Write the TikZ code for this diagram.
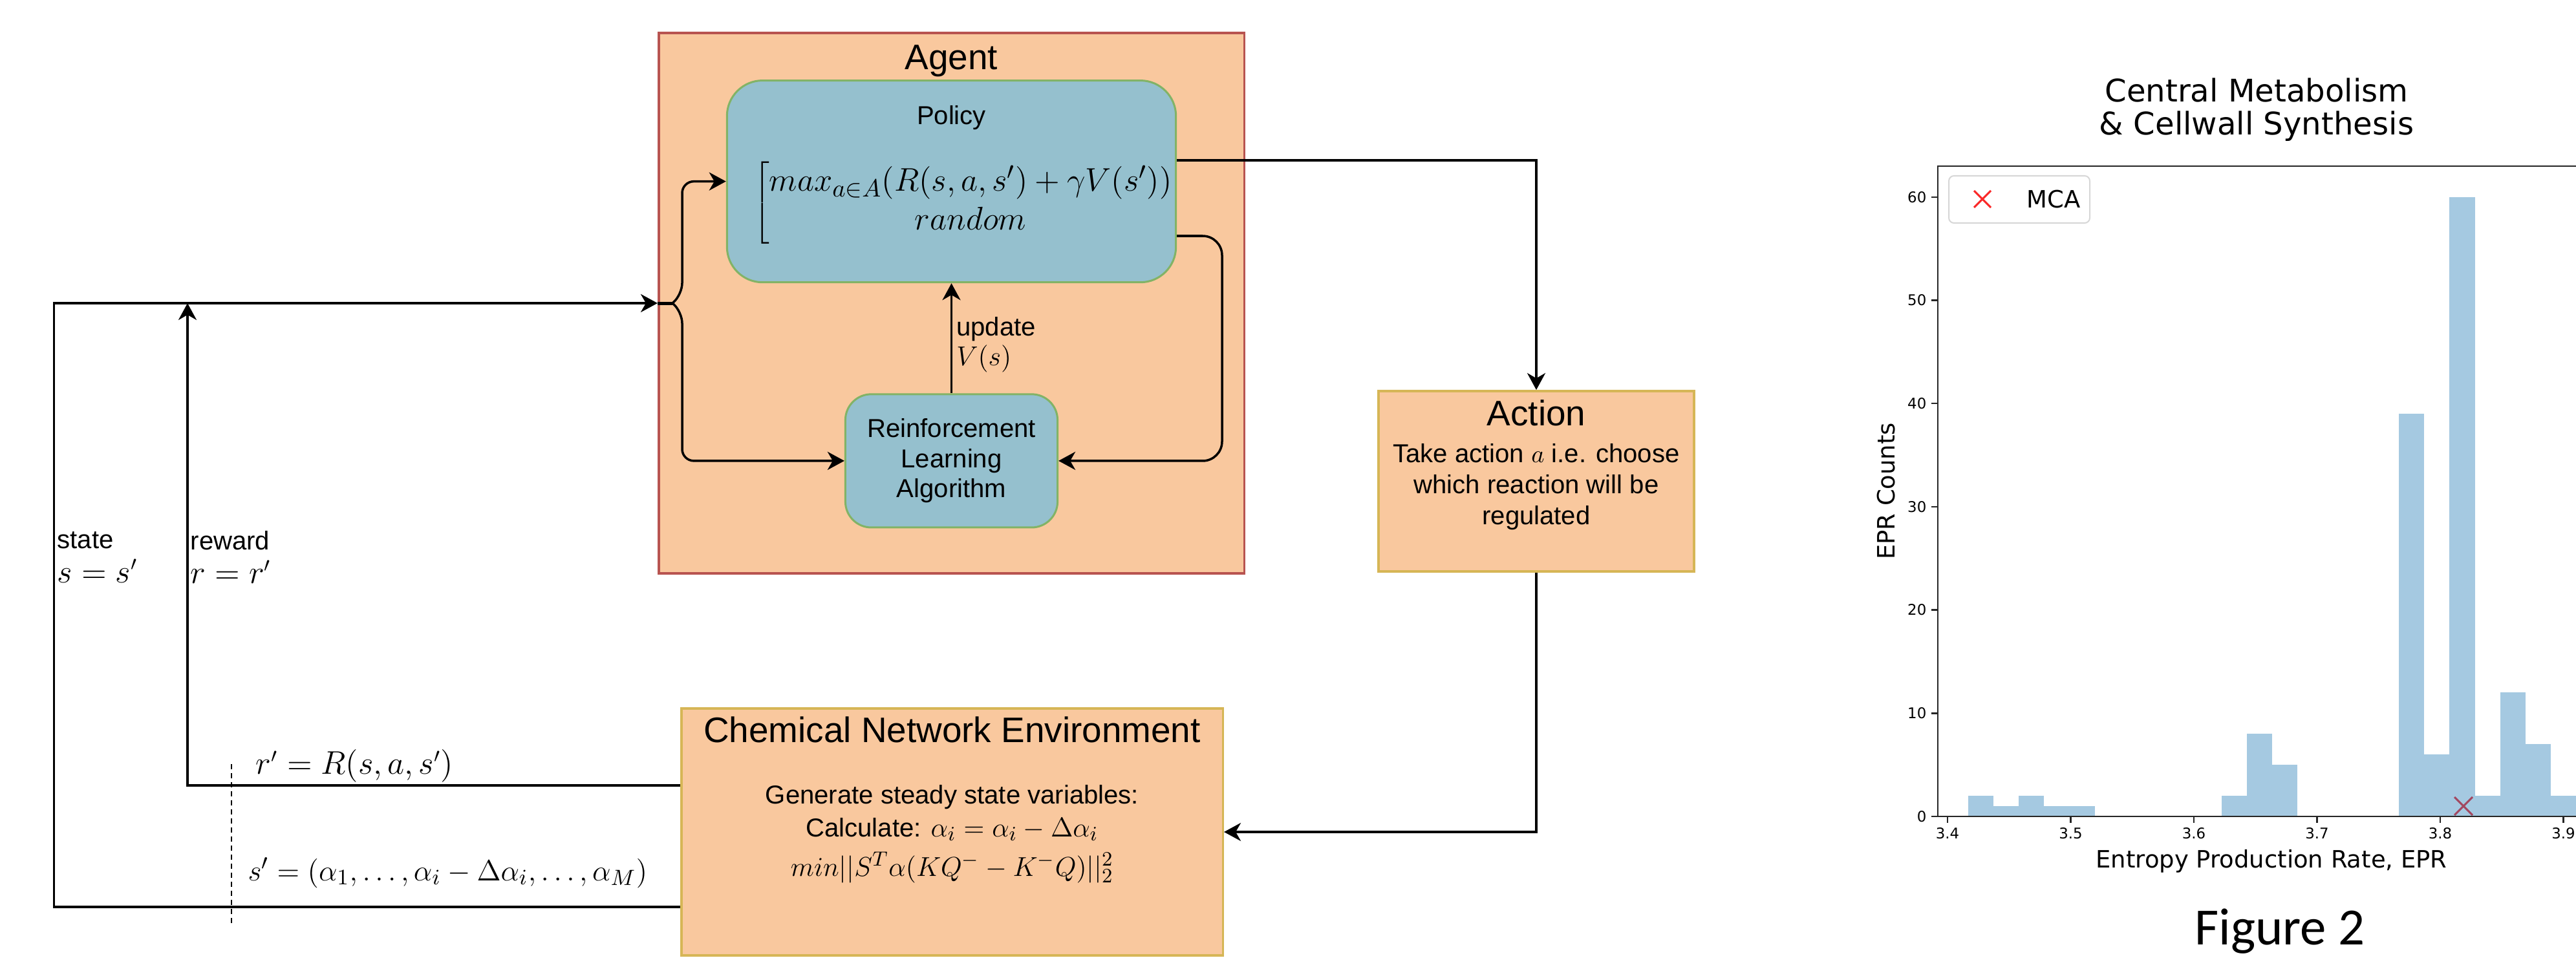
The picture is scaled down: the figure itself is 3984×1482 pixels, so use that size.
\documentclass[tikz,border=0pt]{standalone}
\usepackage{fontspec}
\usepackage{graphicx}
\setmainfont{Liberation Sans}
\newfontfamily\plotfont{DejaVu Sans}
\newfontfamily\figfont{Carlito}
\usetikzlibrary{shapes, arrows.meta, positioning}

\definecolor{peach}{RGB}{249,200,158}
\definecolor{agentred}{RGB}{184,84,80}
\definecolor{tealblue}{RGB}{149,192,206}
\definecolor{leafgreen}{RGB}{130,179,102}
\definecolor{goldline}{RGB}{214,182,86}
\definecolor{histblue}{RGB}{31,119,180}
\definecolor{mcared}{RGB}{250,40,40}
\definecolor{legendgray}{RGB}{215,215,215}

\newcommand{\bodysize}{\fontsize{11.4}{13.2}\selectfont}
\newcommand{\headsize}{\fontsize{15.6}{18}\selectfont}
\newcommand{\eqsize}{\fontsize{13}{15.5}\selectfont}
\newcommand{\envmathsize}{\fontsize{12.6}{15}\selectfont}
\newcommand{\sideeqsize}{\fontsize{13.5}{16}\selectfont}
\newcommand{\policyeqsize}{\fontsize{15.3}{18}\selectfont}

\tikzstyle{frame} =
        [
                rectangle,
                draw = agentred,
                fill = peach,
                line width = 0.035cm,
                inner sep = 0pt
        ]
\tikzstyle{block} =
        [
                rectangle,
                draw = leafgreen,
                fill = tealblue,
                rounded corners = 0.55cm,
                line width = 0.03cm,
                align = center,
                font = \bodysize,
                inner sep = 0pt
        ]
\tikzstyle{box} =
        [
                rectangle,
                draw = goldline,
                fill = peach,
                line width = 0.035cm,
                inner sep = 0pt
        ]
\tikzstyle{heading} =
        [
                font = \headsize,
                inner sep = 0pt
        ]
\tikzstyle{tag} =
        [
                font = \bodysize,
                align = left,
                inner sep = 0pt
        ]
\tikzstyle{line} =
        [
                draw,
                line width = 0.035cm,
                -{Stealth[length = 0.26cm, width = 0.28cm, inset = 0.08cm]}
        ]
\tikzstyle{wire} =
        [
                draw,
                line width = 0.035cm
        ]
\tikzstyle{axisline} =
        [
                draw,
                line width = 0.025cm,
                black!85
        ]
\tikzstyle{histbar} =
        [
                fill = histblue,
                fill opacity = 0.4
        ]
\tikzstyle{ticklabel} =
        [
                font = \plotfont\fontsize{6.5}{7.5}\selectfont,
                inner sep = 0pt
        ]
\tikzstyle{plotlabel} =
        [
                font = \plotfont\fontsize{10.5}{12.6}\selectfont,
                inner sep = 0pt
        ]

\begin{document}
\begin{tikzpicture}[x = 0.01cm, y = -0.01cm, node distance = 4.32cm, auto]
        \useasboundingbox (0,0) rectangle (3984,1482);
        \clip (0,0) rectangle (3984,1482);

        \node [frame, minimum width = 9.05cm, minimum height = 8.36cm] (agent) at (1471.5,469) {};
        \node [heading, below = 0.2cm of agent.north] (agentname) {Agent};
        \node [block, minimum width = 6.94cm, minimum height = 3.12cm, below = 0.74cm of agent.north] (policy) {};
        \node [tag, below = 0.4cm of policy.north] (policyname) {Policy};
        \node [font = \policyeqsize, inner sep = 0pt] (policyeq) at ([xshift = 0.2cm, yshift = -0.33cm]policy.center)
                {\renewcommand{\arraystretch}{0.95}$\left[\begin{array}{@{}c@{}} max_{a\in A}(R(s,a,s')+\gamma V(s'))\\ random\end{array}\right.$};
        \node [block, minimum width = 3.28cm, minimum height = 2.06cm, rounded corners = 0.4cm, below of = policy] (rl) {Reinforcement\\Learning\\Algorithm};

        \node [box, minimum width = 4.88cm, minimum height = 2.79cm] (action) at (2376,744.5) {};
        \node [heading, below = 0.15cm of action.north] (actionname) {Action};
        \node [tag, align = center, font = \fontsize{11.4}{13.6}\selectfont, below = 0.26cm of actionname] (actiontext)
                {Take action $a$ i.e. choose\\which reaction will be\\regulated};

        \node [box, minimum width = 8.37cm, minimum height = 3.82cm] (env) at (1472.5,1287) {};
        \node [heading, below = 0.14cm of env.north] (envname) {Chemical Network Environment};
        \node [tag, align = center, font = \fontsize{11.4}{14.5}\selectfont] (envtext) at ([yshift = -0.03cm]env.center)
                {Generate steady state variables:\\Calculate: {\envmathsize$\alpha_i=\alpha_i-\Delta\alpha_i$}\\[0.1cm]{\envmathsize$min||S^T\alpha(KQ^- -K^-Q)||_2^2$}};

        \node [tag, anchor = west, font = \fontsize{11.4}{15}\selectfont] (statelbl) at (88,862) {state\\{\sideeqsize$s=s'$}};
        \node [tag, anchor = west, font = \fontsize{11.4}{15}\selectfont] (rewardlbl) at (294,862) {reward\\{\sideeqsize$r=r'$}};
        \node [tag, anchor = west, font = \sideeqsize] (rewardeq) at (395,1185) {$r'=R(s,a,s')$};
        \node [tag, anchor = west, font = \envmathsize] (stateeq) at (383,1350) {\scalebox{1.075}{$s'=(\alpha_1,\ldots,\alpha_i-\Delta\alpha_i,\ldots,\alpha_M)$}};

        \coordinate (stateout) at (env.west |- 0,1403);
        \coordinate (stateleft) at (83.5,1403);
        \coordinate (rewardout) at (env.west |- 0,1215);
        \coordinate (rewardtop) at (290,469);
        \coordinate (bracetip) at (1040,469);
        \coordinate (policyout) at (policy.east |- 0,248);
        \coordinate (policyback) at (policy.east |- 0,365);
        \coordinate (loopcorner) at (1890,713);
        \coordinate (cuttop) at (358,1182);
        \coordinate (cutbottom) at (358,1430);

        \path [line] (stateout) -- (stateleft) |- (agent.west);
        \path [line] (rewardout) -| (rewardtop);
        \path [wire, line width = 0.05cm] (agent.west) -- (bracetip);
        \path [line, rounded corners = 0.18cm] (bracetip) -- ++(15,-13) |- (policy.west);
        \path [line, rounded corners = 0.18cm] (bracetip) -- ++(15,13) |- (rl.west);
        \path [line] (rl.north) -- node [tag, right, xshift = 0.06cm, yshift = -0.1cm] {update\\{\eqsize$V(s)$}} (policy.south);
        \path [line] (policyout) -| (action.north);
        \path [line, rounded corners = 0.3cm] (policyback) -| (loopcorner) -- (rl.east);
        \path [line] (action.south) |- (env.east);
        \draw [line width = 0.02cm, dash pattern = on 0.08cm off 0.06cm] (cuttop) -- (cutbottom);

        % histogram
        \draw [mcared, line width = 0.03cm] (3796,1233) -- (3824,1261) (3796,1261) -- (3824,1233);
        \foreach \k/\h in {0/2, 1/1, 2/2, 3/1, 4/1, 10/2, 11/8, 12/5, 17/39, 18/6, 19/60, 20/2, 21/12, 22/7, 23/2, 24/2}
                \fill [histbar] (3043.6+39.2*\k,1263) rectangle ++(39.2,-15.97*\h);
        \path [axisline] (4000,257) -- (2997,257) -- (2997,1263) -- (4000,1263);
        \foreach \lab [count = \v from 0] in {0,10,20,30,40,50,60}
        {
                \path [axisline] (2997,1263-159.7*\v) -- ++(-10,0);
                \node [ticklabel, anchor = east] (ytick\v) at (2980,1263-159.7*\v) {\lab};
        }
        \foreach \lab [count = \j from 0] in {3.4,3.5,3.6,3.7,3.8,3.9}
        {
                \path [axisline] (3012+190.5*\j,1263) -- ++(0,10);
                \node [ticklabel, anchor = north] (xtick\j) at (3012+190.5*\j,1280) {\lab};
        }
        \draw [legendgray, fill = white, line width = 0.02cm, rounded corners = 0.08cm] (3014,272) rectangle (3232,345);
        \draw [mcared, line width = 0.03cm] (3053,295) -- (3079,321) (3053,321) -- (3079,295);
        \node [plotlabel] (legendname) at (3176,308) {MCA};
        \node [plotlabel, font = \plotfont\fontsize{13.7}{14.5}\selectfont, align = center] (plottitle) at (3490,170)
                {Central Metabolism\\ \& Cellwall Synthesis};
        \node [plotlabel, rotate = 90] (ylabel) at (2917,760) {EPR Counts};
        \node [plotlabel] (xlabel) at (3513,1332) {Entropy Production Rate, EPR};
        \node [font = \figfont\fontsize{23}{27}\selectfont, inner sep = 0pt] (figname) at (3526,1441) {Figure 2};
\end{tikzpicture}
\end{document}
